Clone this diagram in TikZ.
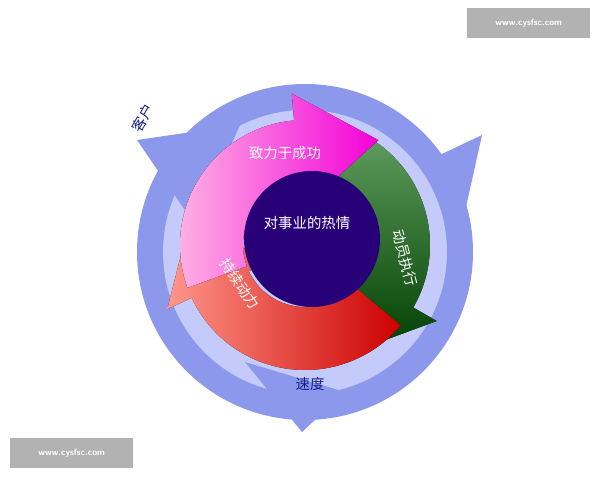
\documentclass[tikz,border=0pt]{standalone}
\usepackage{fontspec}
\newfontfamily\cjk{Noto Sans CJK SC}
\usetikzlibrary{calc}
\definecolor{ringblue}{RGB}{140,152,236}
\definecolor{ringfill}{RGB}{196,202,250}
\definecolor{corepurple}{RGB}{40,0,120}
\definecolor{labelblue}{RGB}{20,30,140}
\tikzset{
  wm/.style={fill=black!30,text=white,font=\sffamily\bfseries\small,minimum width=123pt,minimum height=30pt,inner sep=0pt},
  lab/.style={text=white,font=\cjk\Large,inner sep=1pt},
  outlab/.style={text=labelblue,font=\cjk\Large,inner sep=1pt},
  outhead/.style={fill=ringblue}
}
% annular arrow: start angle, end angle, tip angle, tip radius, fill
\newcommand{\ringarrow}[5]{%
  \fill[#5] ($(C)+(#1:125)$) arc[start angle=#1,end angle=#2,radius=125]
    -- ($(C)+(#2:152)$) -- ($(C)+(#3:#4)$) -- ($(C)+(#2:36)$) -- ($(C)+(#2:62)$)
    arc[start angle=#2,end angle=#1,radius=62] -- cycle;}
\begin{document}
\begin{tikzpicture}[x=1pt,y=1pt]
  \useasboundingbox (0,0) rectangle (600,480);
  \fill[white] (0,0) rectangle (600,480);
  % outer ring
  \coordinate (O) at (305,228);
  \fill[ringblue] (O) circle[radius=168];
  \fill[ringfill] (O) circle[radius=142];
  \fill[outhead] (240,355) -- (137,340) -- (195,255) -- cycle;
  \fill[outhead] (482,345) -- (425,318) -- (462,255) -- cycle;
  \fill[outhead] (302,48) -- (245,118) -- (345,88) -- cycle;
  % inner arrows
  \coordinate (C) at (305,235);
  \ringarrow{85}{-30}{-62}{118}{top color=green!40!black!60!white,bottom color=green!25!black}
  \ringarrow{-40}{-155}{-190}{118}{left color=red!40!white!90!orange,right color=red!80!black}
  \ringarrow{200}{95}{55}{128}{left color=pink!70!magenta!60,right color=magenta!80!purple}
  \fill[corepurple] (312,241) circle[radius=68];
  % labels
  \node[lab] (succ) at (285,327) {致力于成功};
  \node[lab] (core) at (307,257) {对事业的热情};
  \node[lab,rotate=-75] (exec) at (405,222) {动员执行};
  \node[lab,rotate=-55] (power) at (240,196) {持续动力};
  \node[outlab,rotate=60] (cust) at (143,362) {客户};
  \node[outlab] (speed) at (310,96) {速度};
  % watermarks
  \node[wm,anchor=north west] (wm1) at (467,472) {www.cysfsc.com};
  \node[wm,anchor=south west] (wm2) at (10,12) {www.cysfsc.com};
\end{tikzpicture}
\end{document}
